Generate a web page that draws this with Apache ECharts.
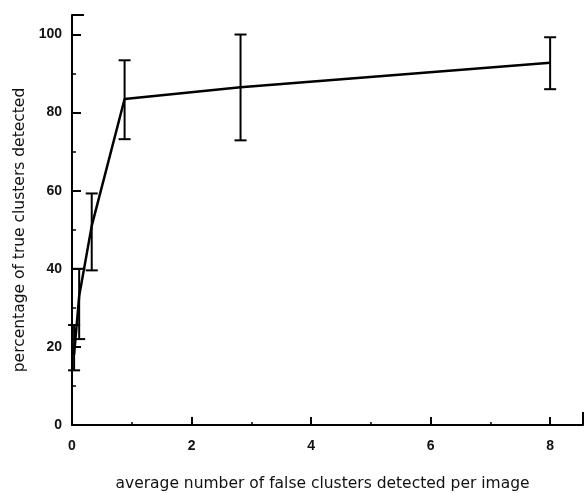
<!DOCTYPE html>
<html>
<head>
<meta charset="utf-8">
<script src="https://cdn.jsdelivr.net/npm/echarts@6/dist/echarts.min.js"></script>
<style>
  html, body { margin: 0; padding: 0; background: #fff; }
  #chart { width: 587px; height: 493px; }
</style>
</head>
<body>
<div id="chart"></div>
<script>
// valores
const falseClusters = [0.035, 0.12, 0.33, 0.88, 2.82, 8.0];
const pctDetected = [18, 33, 51, 83.5, 86.5, 92.8];
const errLow = [14, 22, 39.6, 73.2, 72.9, 86];
const errHigh = [25.6, 40, 59.3, 93.4, 100, 99.3];
const xTicks = [0, 2, 4, 6, 8];
const yTicks = [0, 20, 40, 60, 80, 100];
const xMax = 8.55;
const yMax = 105;

document.addEventListener('DOMContentLoaded', function () {
    const myChart = echarts.init(document.getElementById('chart'));
    const txt = '#111';
    const font = 'Liberation Sans, Arial, sans-serif';
    const titleFont = 'DejaVu Sans, sans-serif';

    const lineData = falseClusters.map((x, i) => [x, pctDetected[i]]);
    const errData = falseClusters.map((x, i) => [x, errLow[i], errHigh[i]]);

    const option = {
        animation: false,
        backgroundColor: '#fff',
        grid: { left: 72, right: 4, top: 15, bottom: 68, outerBoundsMode: 'none' },
        xAxis: {
            type: 'value',
            min: 0,
            max: xMax,
            interval: 2,
            name: 'average number of false clusters detected per image',
            nameLocation: 'middle',
            nameGap: 51,
            nameTextStyle: { color: txt, fontSize: 15.5, fontFamily: titleFont, padding: [0, 10, 0, 0] },
            axisLine: { show: true, lineStyle: { color: '#000', width: 2 } },
            axisTick: { show: true, inside: true, length: 8, lineStyle: { color: '#000', width: 2 } },
            minorTick: { show: true, splitNumber: 2, length: 3, lineStyle: { color: '#000', width: 1.5 } },
            splitLine: { show: false },
            axisLabel: {
                color: txt, fontSize: 14, fontWeight: 'bold', fontFamily: font, margin: 14,
                formatter: v => (xTicks.indexOf(v) >= 0 ? String(v) : '')
            }
        },
        yAxis: {
            type: 'value',
            min: 0,
            max: yMax,
            interval: 20,
            name: 'percentage of true clusters detected',
            nameLocation: 'middle',
            nameGap: 39,
            nameTextStyle: { color: txt, fontSize: 15.5, fontFamily: titleFont, padding: [0, 20, 0, 0] },
            axisLine: { show: true, lineStyle: { color: '#000', width: 2 } },
            axisTick: { show: true, inside: true, length: 9, lineStyle: { color: '#000', width: 2 } },
            minorTick: { show: true, splitNumber: 2, length: 4, lineStyle: { color: '#000', width: 1.5 } },
            splitLine: { show: false },
            axisLabel: {
                color: txt, fontSize: 14, fontWeight: 'bold', fontFamily: font, margin: 10,
                formatter: v => (yTicks.indexOf(v) >= 0 ? String(v) : '')
            }
        },
        series: [
            {
                type: 'line',
                data: lineData,
                symbol: 'none',
                lineStyle: { color: '#000', width: 2.5 },
                z: 3
            },
            {
                // barras de error
                type: 'custom',
                data: errData,
                renderItem: function (params, api) {
                    const x = api.value(0);
                    const lo = api.coord([x, api.value(1)]);
                    const hi = api.coord([x, api.value(2)]);
                    const w = 6;
                    const style = { stroke: '#000', lineWidth: 2 };
                    return {
                        type: 'group',
                        children: [
                            { type: 'line', shape: { x1: lo[0], y1: lo[1], x2: hi[0], y2: hi[1] }, style: style },
                            { type: 'line', shape: { x1: lo[0] - w, y1: lo[1], x2: lo[0] + w, y2: lo[1] }, style: style },
                            { type: 'line', shape: { x1: hi[0] - w, y1: hi[1], x2: hi[0] + w, y2: hi[1] }, style: style }
                        ]
                    };
                },
                z: 4
            },
            {
                // remates de los extremos de los ejes
                type: 'custom',
                data: [[xMax, yMax]],
                silent: true,
                renderItem: function (params, api) {
                    const xe = api.coord([xMax, 0]);
                    const ye = api.coord([0, yMax]);
                    const style = { stroke: '#000', lineWidth: 2 };
                    return {
                        type: 'group',
                        children: [
                            { type: 'line', shape: { x1: xe[0], y1: xe[1], x2: xe[0], y2: xe[1] - 13 }, style: style },
                            { type: 'line', shape: { x1: ye[0], y1: ye[1], x2: ye[0] + 12, y2: ye[1] }, style: style }
                        ]
                    };
                }
            }
        ]
    };

    myChart.setOption(option);
});
</script>
</body>
</html>
